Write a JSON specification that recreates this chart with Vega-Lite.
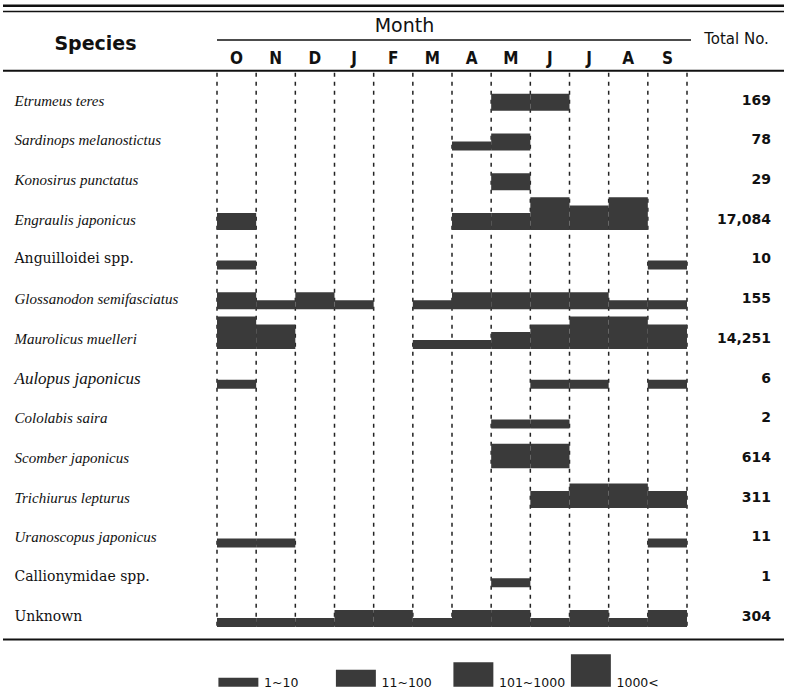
{
  "$schema": "https://vega.github.io/schema/vega-lite/v6.json",
  "autosize": {"type": "pad"},
  "padding": {"left": 1, "top": 3.75, "right": 0, "bottom": 0},
  "background": "white",
  "config": {"view": {"stroke": null}, "font": "DejaVu Sans"},
  "datasets": {
    "species": [
      {"species": "Etrumeus teres", "total": 169},
      {"species": "Sardinops melanostictus", "total": 78},
      {"species": "Konosirus punctatus", "total": 29},
      {"species": "Engraulis japonicus", "total": 17084},
      {"species": "Anguilloidei spp.", "total": 10},
      {"species": "Glossanodon semifasciatus", "total": 155},
      {"species": "Maurolicus muelleri", "total": 14251},
      {"species": "Aulopus japonicus", "total": 6},
      {"species": "Cololabis saira", "total": 2},
      {"species": "Scomber japonicus", "total": 614},
      {"species": "Trichiurus lepturus", "total": 311},
      {"species": "Uranoscopus japonicus", "total": 11},
      {"species": "Callionymidae spp.", "total": 1},
      {"species": "Unknown", "total": 304}
    ],
    "months": [
      {"month": "Oct"}, {"month": "Nov"}, {"month": "Dec"}, {"month": "Jan"},
      {"month": "Feb"}, {"month": "Mar"}, {"month": "Apr"}, {"month": "May"},
      {"month": "Jun"}, {"month": "Jul"}, {"month": "Aug"}, {"month": "Sep"}
    ],
    "levels": [
      {"level": "1~10"}, {"level": "11~100"}, {"level": "101~1000"}, {"level": "1000<"}
    ],
    "catch": [
      {"species": "Etrumeus teres", "month": "May", "level": "11~100"},
      {"species": "Etrumeus teres", "month": "Jun", "level": "11~100"},
      {"species": "Sardinops melanostictus", "month": "Apr", "level": "1~10"},
      {"species": "Sardinops melanostictus", "month": "May", "level": "11~100"},
      {"species": "Konosirus punctatus", "month": "May", "level": "11~100"},
      {"species": "Engraulis japonicus", "month": "Oct", "level": "11~100"},
      {"species": "Engraulis japonicus", "month": "Apr", "level": "11~100"},
      {"species": "Engraulis japonicus", "month": "May", "level": "11~100"},
      {"species": "Engraulis japonicus", "month": "Jun", "level": "1000<"},
      {"species": "Engraulis japonicus", "month": "Jul", "level": "101~1000"},
      {"species": "Engraulis japonicus", "month": "Aug", "level": "1000<"},
      {"species": "Anguilloidei spp.", "month": "Oct", "level": "1~10"},
      {"species": "Anguilloidei spp.", "month": "Sep", "level": "1~10"},
      {"species": "Glossanodon semifasciatus", "month": "Oct", "level": "11~100"},
      {"species": "Glossanodon semifasciatus", "month": "Nov", "level": "1~10"},
      {"species": "Glossanodon semifasciatus", "month": "Dec", "level": "11~100"},
      {"species": "Glossanodon semifasciatus", "month": "Jan", "level": "1~10"},
      {"species": "Glossanodon semifasciatus", "month": "Mar", "level": "1~10"},
      {"species": "Glossanodon semifasciatus", "month": "Apr", "level": "11~100"},
      {"species": "Glossanodon semifasciatus", "month": "May", "level": "11~100"},
      {"species": "Glossanodon semifasciatus", "month": "Jun", "level": "11~100"},
      {"species": "Glossanodon semifasciatus", "month": "Jul", "level": "11~100"},
      {"species": "Glossanodon semifasciatus", "month": "Aug", "level": "1~10"},
      {"species": "Glossanodon semifasciatus", "month": "Sep", "level": "1~10"},
      {"species": "Maurolicus muelleri", "month": "Oct", "level": "1000<"},
      {"species": "Maurolicus muelleri", "month": "Nov", "level": "101~1000"},
      {"species": "Maurolicus muelleri", "month": "Mar", "level": "1~10"},
      {"species": "Maurolicus muelleri", "month": "Apr", "level": "1~10"},
      {"species": "Maurolicus muelleri", "month": "May", "level": "11~100"},
      {"species": "Maurolicus muelleri", "month": "Jun", "level": "101~1000"},
      {"species": "Maurolicus muelleri", "month": "Jul", "level": "1000<"},
      {"species": "Maurolicus muelleri", "month": "Aug", "level": "1000<"},
      {"species": "Maurolicus muelleri", "month": "Sep", "level": "101~1000"},
      {"species": "Aulopus japonicus", "month": "Oct", "level": "1~10"},
      {"species": "Aulopus japonicus", "month": "Jun", "level": "1~10"},
      {"species": "Aulopus japonicus", "month": "Jul", "level": "1~10"},
      {"species": "Aulopus japonicus", "month": "Sep", "level": "1~10"},
      {"species": "Cololabis saira", "month": "May", "level": "1~10"},
      {"species": "Cololabis saira", "month": "Jun", "level": "1~10"},
      {"species": "Scomber japonicus", "month": "May", "level": "101~1000"},
      {"species": "Scomber japonicus", "month": "Jun", "level": "101~1000"},
      {"species": "Trichiurus lepturus", "month": "Jun", "level": "11~100"},
      {"species": "Trichiurus lepturus", "month": "Jul", "level": "101~1000"},
      {"species": "Trichiurus lepturus", "month": "Aug", "level": "101~1000"},
      {"species": "Trichiurus lepturus", "month": "Sep", "level": "11~100"},
      {"species": "Uranoscopus japonicus", "month": "Oct", "level": "1~10"},
      {"species": "Uranoscopus japonicus", "month": "Nov", "level": "1~10"},
      {"species": "Uranoscopus japonicus", "month": "Sep", "level": "1~10"},
      {"species": "Callionymidae spp.", "month": "May", "level": "1~10"},
      {"species": "Unknown", "month": "Oct", "level": "1~10"},
      {"species": "Unknown", "month": "Nov", "level": "1~10"},
      {"species": "Unknown", "month": "Dec", "level": "1~10"},
      {"species": "Unknown", "month": "Jan", "level": "11~100"},
      {"species": "Unknown", "month": "Feb", "level": "11~100"},
      {"species": "Unknown", "month": "Mar", "level": "1~10"},
      {"species": "Unknown", "month": "Apr", "level": "11~100"},
      {"species": "Unknown", "month": "May", "level": "11~100"},
      {"species": "Unknown", "month": "Jun", "level": "1~10"},
      {"species": "Unknown", "month": "Jul", "level": "11~100"},
      {"species": "Unknown", "month": "Aug", "level": "1~10"},
      {"species": "Unknown", "month": "Sep", "level": "11~100"}
    ]
  },
  "spacing": 8,
  "vconcat": [
    {
      "width": 470,
      "height": 556,
      "resolve": {"scale": {"x": "shared", "y": "shared"}, "axis": {"x": "independent", "y": "independent"}},
      "layer": [
        {
          "data": {"name": "months"},
          "mark": {"type": "rule", "strokeDash": [4, 5], "strokeWidth": 1.5, "color": "#222"},
          "encoding": {
            "x": {"field": "month", "type": "nominal", "bandPosition": 0, "axis": null,
                  "scale": {"domain": ["Oct","Nov","Dec","Jan","Feb","Mar","Apr","May","Jun","Jul","Aug","Sep"], "paddingInner": 0, "paddingOuter": 0}},
            "y": {"datum": "Etrumeus teres", "type": "nominal", "bandPosition": 0, "axis": null,
                  "scale": {"domain": ["Etrumeus teres","Sardinops melanostictus","Konosirus punctatus","Engraulis japonicus","Anguilloidei spp.","Glossanodon semifasciatus","Maurolicus muelleri","Aulopus japonicus","Cololabis saira","Scomber japonicus","Trichiurus lepturus","Uranoscopus japonicus","Callionymidae spp.","Unknown"], "paddingInner": 0, "paddingOuter": 0}},
            "y2": {"datum": "Unknown", "bandPosition": 1}
          }
        },
        {
          "data": {"name": "months"},
          "transform": [{"filter": "datum.month == 'Sep'"}],
          "mark": {"type": "rule", "strokeDash": [4, 5], "strokeWidth": 1.5, "color": "#222"},
          "encoding": {
            "x": {"field": "month", "type": "nominal", "bandPosition": 1, "axis": null},
            "y": {"datum": "Etrumeus teres", "type": "nominal", "bandPosition": 0, "axis": null},
            "y2": {"datum": "Unknown", "bandPosition": 1}
          }
        },
        {
          "data": {"name": "catch"},
          "transform": [{"filter": "datum.level == '1~10'"}],
          "mark": {"type": "rect", "color": "#3a3a3a"},
          "encoding": {
            "x": {"field": "month", "type": "nominal",
                  "axis": {"orient": "top", "domain": false, "ticks": false, "tickSize": 0, "labelPadding": 9,
                           "labelBaseline": "alphabetic", "labelAngle": 0,
                           "labelExpr": "substring(datum.value, 0, 1)",
                           "labelFont": "Liberation Sans Narrow, DejaVu Sans Condensed, Arial Narrow, sans-serif",
                           "labelFontWeight": "bold", "labelFontSize": 17, "labelColor": "#111",
                           "title": "Month", "titleX": 187, "titleY": -47, "titleAlign": "center",
                           "titleBaseline": "middle", "titleFont": "DejaVu Sans", "titleFontSize": 19,
                           "titleFontWeight": "normal", "titleColor": "#111"}},
            "y": {"field": "species", "type": "nominal", "bandPosition": 0.73,
                  "axis": {"orient": "left", "domain": false, "ticks": false, "tickSize": 0,
                           "labelPadding": 203, "labelAlign": "left", "labelOffset": 8, "labelLimit": 0,
                           "labelColor": "#111",
                           "labelFont": {"condition": {"test": "indexof(['Anguilloidei spp.','Callionymidae spp.','Unknown'], datum.value) >= 0", "value": "DejaVu Serif"}, "value": "Liberation Serif"},
                           "labelFontStyle": {"condition": {"test": "indexof(['Anguilloidei spp.','Callionymidae spp.','Unknown'], datum.value) >= 0", "value": "normal"}, "value": "italic"},
                           "labelFontSize": {"condition": [
                             {"test": "datum.value == 'Aulopus japonicus'", "value": 17},
                             {"test": "indexof(['Anguilloidei spp.','Callionymidae spp.','Unknown'], datum.value) >= 0", "value": 14}
                           ], "value": 15},
                           "title": "Species", "titleAngle": 0, "titleX": -122, "titleY": -29,
                           "titleAlign": "center", "titleBaseline": "middle", "titleFont": "DejaVu Sans",
                           "titleFontSize": 19, "titleFontWeight": "bold", "titleColor": "#111"}},
            "y2": {"field": "species", "bandPosition": 0.957}
          }
        },
        {
          "data": {"name": "catch"},
          "transform": [{"filter": "datum.level == '11~100'"}],
          "mark": {"type": "rect", "color": "#3a3a3a"},
          "encoding": {
            "x": {"field": "month", "type": "nominal", "axis": null},
            "y": {"field": "species", "type": "nominal", "bandPosition": 0.529, "axis": null},
            "y2": {"field": "species", "bandPosition": 0.957}
          }
        },
        {
          "data": {"name": "catch"},
          "transform": [{"filter": "datum.level == '101~1000'"}],
          "mark": {"type": "rect", "color": "#3a3a3a"},
          "encoding": {
            "x": {"field": "month", "type": "nominal", "axis": null},
            "y": {"field": "species", "type": "nominal", "bandPosition": 0.34, "axis": null},
            "y2": {"field": "species", "bandPosition": 0.957}
          }
        },
        {
          "data": {"name": "catch"},
          "transform": [{"filter": "datum.level == '1000<'"}],
          "mark": {"type": "rect", "color": "#3a3a3a"},
          "encoding": {
            "x": {"field": "month", "type": "nominal", "axis": null},
            "y": {"field": "species", "type": "nominal", "bandPosition": 0.138, "axis": null},
            "y2": {"field": "species", "bandPosition": 0.957}
          }
        },
        {
          "data": {"name": "species"},
          "mark": {"type": "text", "align": "right", "baseline": "middle", "dx": 84,
                   "font": "DejaVu Sans", "fontWeight": "bold", "fontSize": 14, "color": "#111"},
          "encoding": {
            "x": {"datum": "Sep", "type": "nominal", "bandPosition": 1, "axis": null},
            "y": {"field": "species", "type": "nominal", "bandPosition": 0.7,
                  "axis": {"orient": "right", "domain": false, "ticks": false, "labels": false,
                           "title": "Total No.", "titleAngle": 0, "titleX": 49, "titleY": -34,
                           "titleAlign": "center", "titleBaseline": "middle", "titleFont": "DejaVu Sans",
                           "titleFontSize": 15, "titleFontWeight": "normal", "titleColor": "#111"}},
            "text": {"field": "total", "type": "quantitative", "format": ","}
          }
        },
        {
          "data": {"values": [{}]},
          "mark": {"type": "rule", "strokeWidth": 2.5, "color": "#111", "xOffset": -214, "x2Offset": 97, "yOffset": -67},
          "encoding": {
            "x": {"datum": "Oct", "type": "nominal", "bandPosition": 0, "axis": null},
            "x2": {"datum": "Sep", "bandPosition": 1},
            "y": {"datum": "Etrumeus teres", "type": "nominal", "bandPosition": 0, "axis": null}
          }
        },
        {
          "data": {"values": [{}]},
          "mark": {"type": "rule", "strokeWidth": 1.5, "color": "#111", "xOffset": -214, "x2Offset": 97, "yOffset": -61.3},
          "encoding": {
            "x": {"datum": "Oct", "type": "nominal", "bandPosition": 0, "axis": null},
            "x2": {"datum": "Sep", "bandPosition": 1},
            "y": {"datum": "Etrumeus teres", "type": "nominal", "bandPosition": 0, "axis": null}
          }
        },
        {
          "data": {"values": [{}]},
          "mark": {"type": "rule", "strokeWidth": 1.5, "color": "#111", "x2Offset": 4, "yOffset": -32.7},
          "encoding": {
            "x": {"datum": "Oct", "type": "nominal", "bandPosition": 0, "axis": null},
            "x2": {"datum": "Sep", "bandPosition": 1},
            "y": {"datum": "Etrumeus teres", "type": "nominal", "bandPosition": 0, "axis": null}
          }
        },
        {
          "data": {"values": [{}]},
          "mark": {"type": "rule", "strokeWidth": 1.8, "color": "#111", "xOffset": -214, "x2Offset": 97, "yOffset": -2},
          "encoding": {
            "x": {"datum": "Oct", "type": "nominal", "bandPosition": 0, "axis": null},
            "x2": {"datum": "Sep", "bandPosition": 1},
            "y": {"datum": "Etrumeus teres", "type": "nominal", "bandPosition": 0, "axis": null}
          }
        },
        {
          "data": {"values": [{}]},
          "mark": {"type": "rule", "strokeWidth": 2, "color": "#111", "xOffset": -214, "x2Offset": 97, "yOffset": 10.7},
          "encoding": {
            "x": {"datum": "Oct", "type": "nominal", "bandPosition": 0, "axis": null},
            "x2": {"datum": "Sep", "bandPosition": 1},
            "y": {"datum": "Unknown", "type": "nominal", "bandPosition": 1, "axis": null}
          }
        }
      ]
    },
    {
      "width": 470,
      "height": 39.71,
      "data": {"name": "levels"},
      "encoding": {
        "x": {"field": "level", "type": "nominal", "axis": null, "bandPosition": 0.012,
              "scale": {"domain": ["1~10", "11~100", "101~1000", "1000<"], "paddingInner": 0, "paddingOuter": 0}}
      },
      "layer": [
        {
          "transform": [{"filter": "datum.level == '1~10'"}],
          "mark": {"type": "rect", "color": "#3a3a3a"},
          "encoding": {
            "x2": {"field": "level", "bandPosition": 0.352},
            "y": {"datum": "key", "type": "nominal", "bandPosition": 0.73, "axis": null, "scale": {"paddingInner": 0, "paddingOuter": 0}},
            "y2": {"datum": "key", "bandPosition": 0.957}
          }
        },
        {
          "transform": [{"filter": "datum.level == '11~100'"}],
          "mark": {"type": "rect", "color": "#3a3a3a"},
          "encoding": {
            "x2": {"field": "level", "bandPosition": 0.352},
            "y": {"datum": "key", "type": "nominal", "bandPosition": 0.529, "axis": null},
            "y2": {"datum": "key", "bandPosition": 0.957}
          }
        },
        {
          "transform": [{"filter": "datum.level == '101~1000'"}],
          "mark": {"type": "rect", "color": "#3a3a3a"},
          "encoding": {
            "x2": {"field": "level", "bandPosition": 0.352},
            "y": {"datum": "key", "type": "nominal", "bandPosition": 0.34, "axis": null},
            "y2": {"datum": "key", "bandPosition": 0.957}
          }
        },
        {
          "transform": [{"filter": "datum.level == '1000<'"}],
          "mark": {"type": "rect", "color": "#3a3a3a"},
          "encoding": {
            "x2": {"field": "level", "bandPosition": 0.352},
            "y": {"datum": "key", "type": "nominal", "bandPosition": 0.138, "axis": null},
            "y2": {"datum": "key", "bandPosition": 0.957}
          }
        },
        {
          "mark": {"type": "text", "align": "left", "baseline": "middle", "font": "DejaVu Sans", "fontSize": 12.5, "color": "#111"},
          "encoding": {
            "x": {"field": "level", "type": "nominal", "bandPosition": 0.4, "axis": null},
            "y": {"datum": "key", "type": "nominal", "bandPosition": 0.85, "axis": null},
            "text": {"field": "level"}
          }
        }
      ]
    }
  ]
}
